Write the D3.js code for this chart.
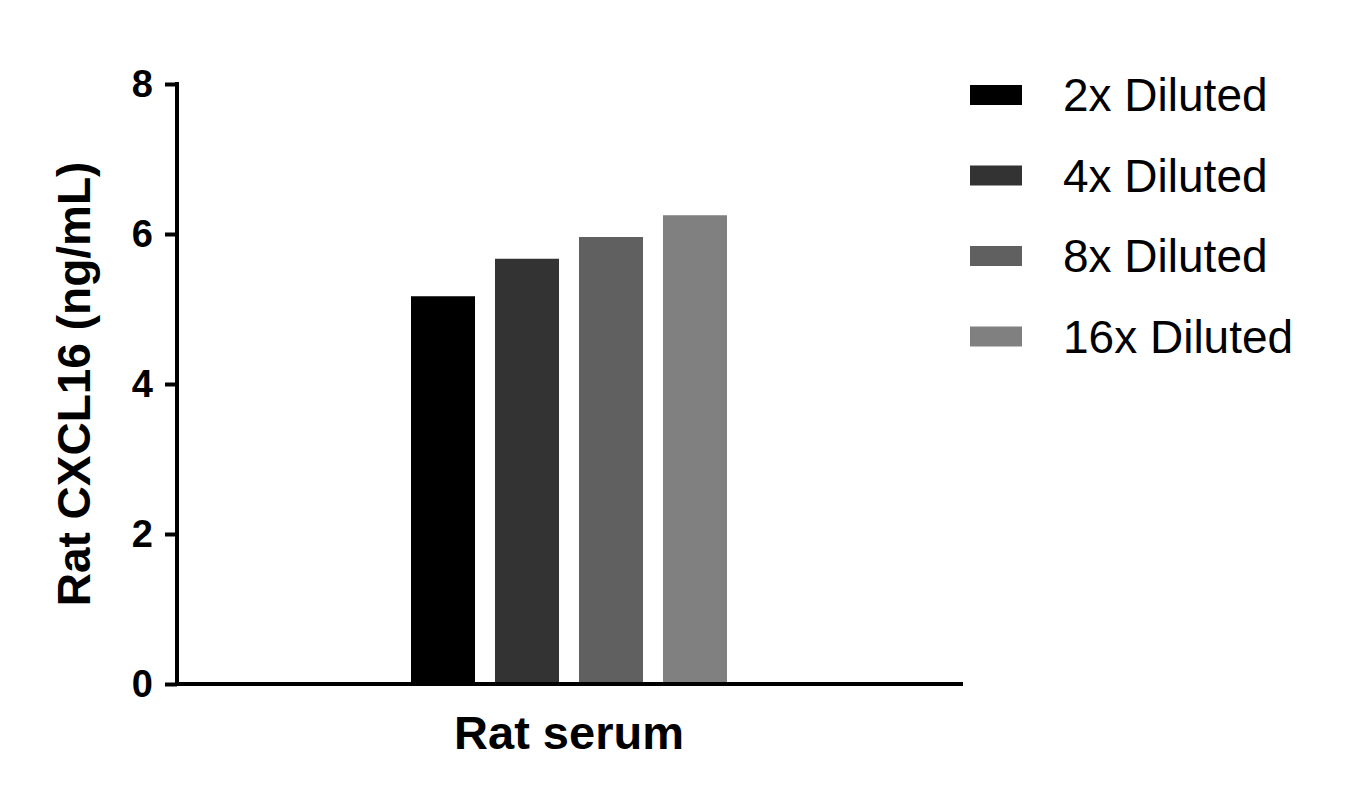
<!DOCTYPE html>
<html><head><meta charset="utf-8">
<script src="https://cdn.jsdelivr.net/npm/d3@7"></script>
<style>body{margin:0;background:#fff}svg{font-family:Arial,"Liberation Sans",sans-serif}</style>
</head><body>
<svg id="c" width="1346" height="804"></svg>
<script>
const categories = ["Rat serum"];
const seriesNames = ["2x Diluted","4x Diluted","8x Diluted","16x Diluted"];
const seriesValues = [5.17, 5.67, 5.96, 6.25];
const colors = ["#000000","#333333","#606060","#808080"];
const yTicks = [0,2,4,6,8];

const svg = d3.select("#c");
const x0 = 177, x1 = 963, yTop = 84, yBot = 684;
const y = d3.scaleLinear().domain([0,8]).range([yBot,yTop]);
const xc = d3.scaleBand().domain(categories).range([x0,x1]);
const xs = d3.scaleBand().domain(seriesNames).range([411,727]).paddingInner(0.238);

svg.selectAll("rect.bar").data(seriesValues).join("rect")
  .attr("x",(d,i)=>xs(seriesNames[i])).attr("width",xs.bandwidth())
  .attr("y",d=>y(d)).attr("height",d=>yBot-y(d)).attr("fill",(d,i)=>colors[i]);

const ya = svg.append("g").attr("transform",`translate(${x0},0)`)
  .call(d3.axisLeft(y).tickValues(yTicks).tickSize(12).tickPadding(12).tickFormat(d3.format("d")));
ya.attr("font-size",null).attr("font-family",null);
ya.select(".domain").attr("stroke","#000").attr("stroke-width",4).attr("d",`M0,${yTop-2}V${yBot}`);
ya.selectAll(".tick line").attr("stroke-width",4);
ya.selectAll("text").style("font-size","38px").style("font-weight","bold").attr("fill","#000");

svg.append("line").attr("x1",x0-2).attr("x2",x1).attr("y1",yBot).attr("y2",yBot).attr("stroke","#000").attr("stroke-width",4);

svg.append("text").attr("transform","translate(90,384) rotate(-90)").attr("text-anchor","middle")
  .style("font-size","46px").attr("font-weight","bold").text("Rat CXCL16 (ng/mL)");
svg.append("text").attr("x",xc(categories[0])+xc.bandwidth()/2 - 1).attr("y",749).attr("text-anchor","middle")
  .style("font-size","47px").attr("font-weight","bold").text(categories[0]);

const lg = svg.selectAll("g.lg").data(seriesNames).join("g").attr("transform",(d,i)=>`translate(970,${95+i*80.5})`);
lg.append("rect").attr("x",0).attr("y",-10).attr("width",52).attr("height",20).attr("fill",(d,i)=>colors[i]);
lg.append("text").attr("x",93).attr("y",16).style("font-size","46px").text(d=>d);
</script>
</body></html>
